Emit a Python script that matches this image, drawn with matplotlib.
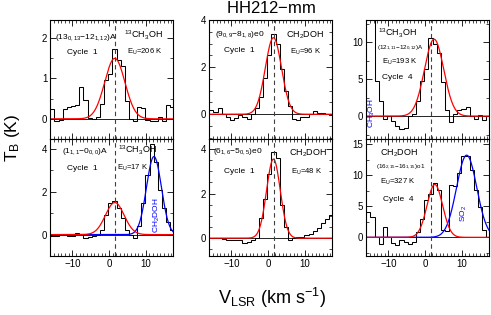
import numpy as np
import matplotlib
matplotlib.use("Agg")
import matplotlib.pyplot as plt
from matplotlib.ticker import MultipleLocator, AutoMinorLocator

plt.rcParams['font.family'] = ['Liberation Sans', 'DejaVu Sans']
plt.rcParams['mathtext.fontset'] = 'custom'
plt.rcParams['mathtext.rm'] = 'Liberation Sans'
plt.rcParams['mathtext.it'] = 'Liberation Sans'
plt.rcParams['mathtext.bf'] = 'Liberation Sans:bold'

# channel centres (km/s), width 1.13 km/s
v_chan = [-15.44, -14.31, -13.18, -12.05, -10.92, -9.79, -8.66, -7.53, -6.40, -5.27,
          -4.14, -3.01, -1.88, -0.75, 0.38, 1.51, 2.64, 3.77, 4.90, 6.03,
          7.16, 8.29, 9.42, 10.55, 11.68, 12.81, 13.94, 15.07, 16.20, 17.33]
dv = 1.13
v_sys = 1.6

# brightness temperature spectra (K)
tb_13ch3oh_206 = [0.25, -0.05, -0.03, 0.25, 0.3, 0.32, 0.35, 0.8, 0.47, 0.03,
                  0.0, 0.05, 0.38, 0.97, 1.1, 1.72, 1.46, 1.3, 0.45, 0.0,
                  -0.05, 0.3, 0.28, -0.02, -0.05, -0.05, 0.05, -0.05, 0.35, 0.3]
tb_ch2doh_96 = [0.17, 0.1, 0.28, -0.01, -0.11, -0.26, -0.15, -0.05, -0.12, -0.2,
                0.0, 0.25, 0.74, 1.52, 2.5, 3.4, 3.0, 1.9, 1.0, 0.35,
                -0.2, -0.25, -0.1, -0.1, 0.03, 0.13, 0.05, 0.05, 0.0, -0.05]
tb_13ch3oh_193 = [20.0, 20.0, 4.8, 2.1, -0.4, 0.0, -0.7, -1.3, -1.7, -1.6,
                  0.0, 0.3, 2.1, 4.8, 6.4, 10.6, 9.8, 8.6, 4.6, 0.8,
                  -0.8, 0.3, 0.8, 1.0, 1.2, 0.0, -0.4, 0.1, -0.5, 0.0]
tb_13ch3oh_17 = [-0.08, -0.08, 0.0, 0.0, -0.05, -0.05, 0.08, 0.05, -0.15, -0.1,
                 -0.05, 0.0, 0.23, 0.93, 1.47, 1.55, 1.25, 0.78, 0.23, 0.0,
                 -0.15, 0.4, 1.5, 2.8, 4.25, 3.4, 2.1, 1.25, 0.6, 0.2]
tb_ch2doh_48 = [0.0, 0.0, 0.0, -0.05, -0.08, -0.1, -0.1, -0.08, -0.2, -0.15,
                -0.1, 0.0, 0.9, 1.75, 2.9, 3.85, 3.6, 1.5, 0.5, -0.07,
                0.0, 0.07, 0.07, 0.15, 0.2, 0.3, 0.45, 0.67, 0.85, 1.05]
tb_ch2doh_327 = [4.1, 3.3, 0.0, -1.0, 1.7, 0.0, -0.9, -1.2, -0.4, -0.8,
                 -1.0, -0.7, 0.9, 3.0, 6.0, 7.0, 8.8, 7.6, 1.2, 1.0,
                 8.4, 8.2, 10.3, 13.0, 13.0, 10.8, 7.6, 4.9, 1.2, 0.0]

# gaussian fits: (peak K, centre km/s, FWHM km/s)
fit_red = [(1.5, 1.6, 6.5), (3.25, 1.5, 5.2), (10.4, 2.5, 6.2),
           (1.5, 1.6, 6.0), (3.55, 1.5, 4.4), (8.5, 2.7, 5.0)]
fit_blue = [None, None, None, (3.65, 12.3, 4.8), None, (13.2, 11.4, 6.5)]

spectra = [tb_13ch3oh_206, tb_ch2doh_96, tb_13ch3oh_193,
           tb_13ch3oh_17, tb_ch2doh_48, tb_ch2doh_327]
ylims = [(-0.5, 2.45), (-1.05, 4.0), (-3.1, 13.0),
         (-1.0, 4.47), (-0.8, 4.45), (-3.0, 15.8)]
ymajor = [1, 2, 5, 2, 2, 5]
yminor_n = [2, 4, 2, 2, 4, 2]

# annotations: (text, x, y, size, colour, rotation)
notes = [
    [(r'(13$_{0,13}$$-$12$_{1,12}$)A', 0.04, 0.857, 6, 'k', 0),
     (r'$^{13}$CH$_3$OH', 0.60, 0.874, 6.5, 'k', 0),
     ('Cycle  1', 0.14, 0.73, 6, 'k', 0),
     (r'E$_\mathrm{U}$=206 K', 0.63, 0.73, 5.5, 'k', 0)],
    [(r'(9$_{0,9}$$-$8$_{1,8}$)e0', 0.05, 0.874, 6, 'k', 0),
     (r'CH$_2$DOH', 0.63, 0.874, 6.5, 'k', 0),
     ('Cycle  1', 0.12, 0.74, 6, 'k', 0),
     (r'E$_\mathrm{U}$=96 K', 0.66, 0.73, 5.5, 'k', 0)],
    [(r'$^{13}$CH$_3$OH', 0.10, 0.89, 6.5, 'k', 0),
     (r'(12$_{1,11}$$-$12$_{0,12}$)A', 0.09, 0.765, 4.5, 'k', 0),
     (r'E$_\mathrm{U}$=193 K', 0.13, 0.647, 5.5, 'k', 0),
     ('Cycle  4', 0.13, 0.52, 6, 'k', 0),
     (r'CH$_3$OH', 0.05, 0.22, 6, 'blue', 90)],
    [(r'(1$_{1,1}$$-$0$_{0,0}$)A', 0.10, 0.89, 6, 'k', 0),
     (r'$^{13}$CH$_3$OH', 0.55, 0.906, 6.5, 'k', 0),
     ('Cycle  1', 0.14, 0.75, 6, 'k', 0),
     (r'E$_\mathrm{U}$=17 K', 0.545, 0.75, 5.5, 'k', 0),
     (r'CH$_2$DOH', 0.87, 0.35, 6, 'blue', 90)],
    [(r'(6$_{1,6}$$-$5$_{0,5}$)e0', 0.03, 0.89, 6, 'k', 0),
     (r'CH$_2$DOH', 0.65, 0.88, 6.5, 'k', 0),
     ('Cycle  1', 0.12, 0.72, 6, 'k', 0),
     (r'E$_\mathrm{U}$=48 K', 0.67, 0.72, 5.5, 'k', 0)],
    [(r'CH$_2$DOH', 0.11, 0.88, 6.5, 'k', 0),
     (r'(16$_{2,15}$$-$16$_{1,15}$)o1', 0.08, 0.76, 4.5, 'k', 0),
     (r'E$_\mathrm{U}$=327 K', 0.11, 0.63, 5.5, 'k', 0),
     ('Cycle  4', 0.14, 0.48, 6, 'k', 0),
     (r'SO$_2$', 0.80, 0.36, 6, 'blue', 90)],
]


def gauss(v, peak, cen, fwhm):
    sig = fwhm / 2.3548
    return peak * np.exp(-0.5 * ((v - cen) / sig) ** 2)


v = np.array(v_chan)
edges = np.append(v - dv / 2, v[-1] + dv / 2)
v_fine = np.linspace(-16.1, 17.5, 500)

fig = plt.figure(figsize=(4.91, 3.15), dpi=100)
W, H = 491, 315
col_x = [50, 209, 366]
row_y = [(20, 139), (139, 256)]
pw = 123

for k in range(6):
    r, c = divmod(k, 3)
    top, bot = row_y[r]
    ax = fig.add_axes([col_x[c] / W, 1 - bot / H, pw / W, (bot - top) / H])
    ax.axhline(0, color='k', lw=0.6)
    if fit_blue[k] is not None:
        ax.plot(v_fine, gauss(v_fine, *fit_blue[k]), color='blue', lw=0.9)
    ax.plot(v_fine, gauss(v_fine, *fit_red[k]), color='red', lw=0.9)
    ax.stairs(spectra[k], edges, baseline=None, color='k', lw=0.75)
    ax.axvline(v_sys, color='0.25', lw=0.8, ls=(0, (4, 3)))
    ax.set_xlim(-16.1, 17.5)
    ax.set_ylim(*ylims[k])
    ax.xaxis.set_major_locator(MultipleLocator(10))
    ax.xaxis.set_minor_locator(MultipleLocator(1))
    ax.yaxis.set_major_locator(MultipleLocator(ymajor[k]))
    ax.yaxis.set_minor_locator(AutoMinorLocator(yminor_n[k]))
    ax.tick_params(which='both', direction='in', top=True, right=True,
                   labelsize=7, pad=2)
    ax.tick_params(which='major', length=4, width=0.6)
    ax.tick_params(which='minor', length=2, width=0.5)
    for s in ax.spines.values():
        s.set_linewidth(0.8)
    if r == 0:
        ax.tick_params(labelbottom=False)
    for txt, tx, ty, fs, col, rot in notes[k]:
        if rot:
            ax.text(tx, ty, txt, transform=ax.transAxes, fontsize=fs, color=col,
                    rotation=rot, ha='center', va='center')
        else:
            ax.text(tx, ty, txt, transform=ax.transAxes, fontsize=fs, color=col,
                    ha='left', va='center')

fig.text(271 / W, 1 - 13 / H, r'HH212$-$mm', ha='center', va='baseline',
         fontsize=12)
fig.text(12 / W, 1 - 138 / H, r'T$_\mathrm{B}$ (K)', rotation=90,
         ha='center', va='center', fontsize=12.5)
fig.text(272 / W, 1 - 298 / H, r'V$_\mathrm{LSR}$ (km s$^{-1}$)',
         ha='center', va='center', fontsize=13)

fig.savefig('out.png', dpi=100)
